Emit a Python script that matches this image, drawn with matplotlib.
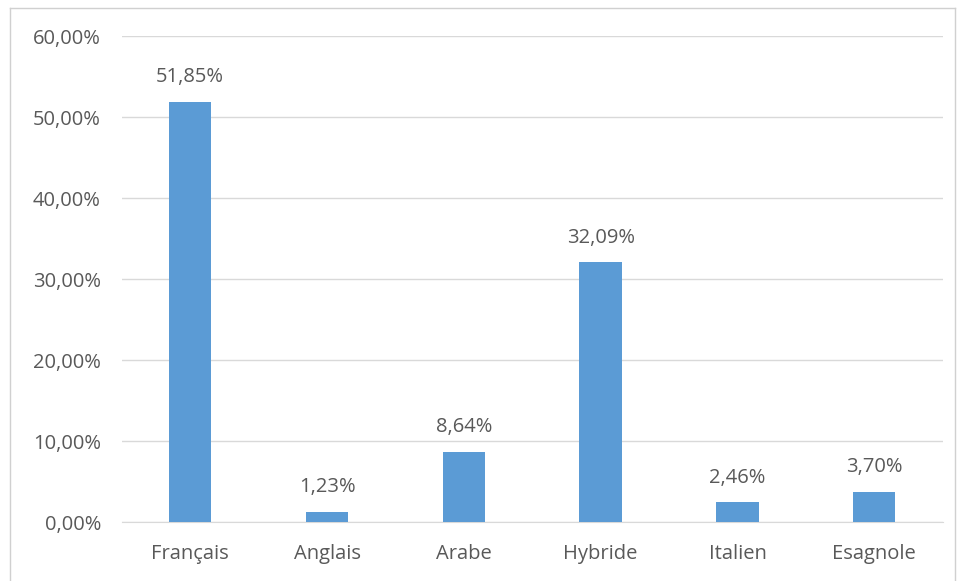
import matplotlib.pyplot as plt
from matplotlib.lines import Line2D

plt.rcParams['font.family'] = ['Open Sans', 'DejaVu Sans']

langues = ["Français", "Anglais", "Arabe", "Hybride", "Italien", "Esagnole"]
pourcentages = [51.85, 1.23, 8.64, 32.09, 2.46, 3.70]
yticks = [0, 10, 20, 30, 40, 50, 60]

text_col = "#595959"
bar_col = "#5B9BD5"
fs = 14.5

fig = plt.figure(figsize=(9.59, 5.81), dpi=100)
ax = fig.add_axes([0.127, 0.1015, 0.856, 0.8365])

x = range(len(langues))
bars = ax.bar(x, pourcentages, width=0.31, color=bar_col, zorder=3)

for xi, v in zip(x, pourcentages):
    ax.text(xi, v + 1.8, f"{v:.2f}%".replace(".", ","), ha="center", va="bottom",
            fontsize=fs, color=text_col)

ax.set_xlim(-0.5, len(langues) - 0.5)
ax.set_ylim(0, 60)
ax.set_yticks(yticks)
ax.set_yticklabels([f"{t:.2f}%".replace(".", ",") for t in yticks])
ax.set_xticks(list(x))
ax.set_xticklabels(langues)
ax.tick_params(axis="both", length=0, labelsize=fs, labelcolor=text_col)
ax.tick_params(axis="y", pad=15)
ax.tick_params(axis="x", pad=16)

ax.grid(axis="y", color="#D9D9D9", linewidth=1, zorder=0)
for s in ["top", "right", "left"]:
    ax.spines[s].set_visible(False)
ax.spines["bottom"].set_color("#D9D9D9")

# thin outer frame of the chart area
W, H = 959, 581
frame = dict(color="#D0D0D0", linewidth=1, transform=fig.transFigure)
fig.add_artist(Line2D([10 / W, 10 / W], [0, 1 - 8 / H], **frame))
fig.add_artist(Line2D([10 / W, 955 / W], [1 - 8 / H, 1 - 8 / H], **frame))
fig.add_artist(Line2D([955 / W, 955 / W], [0, 1 - 8 / H], **frame))

fig.savefig("out.png", dpi=100)
